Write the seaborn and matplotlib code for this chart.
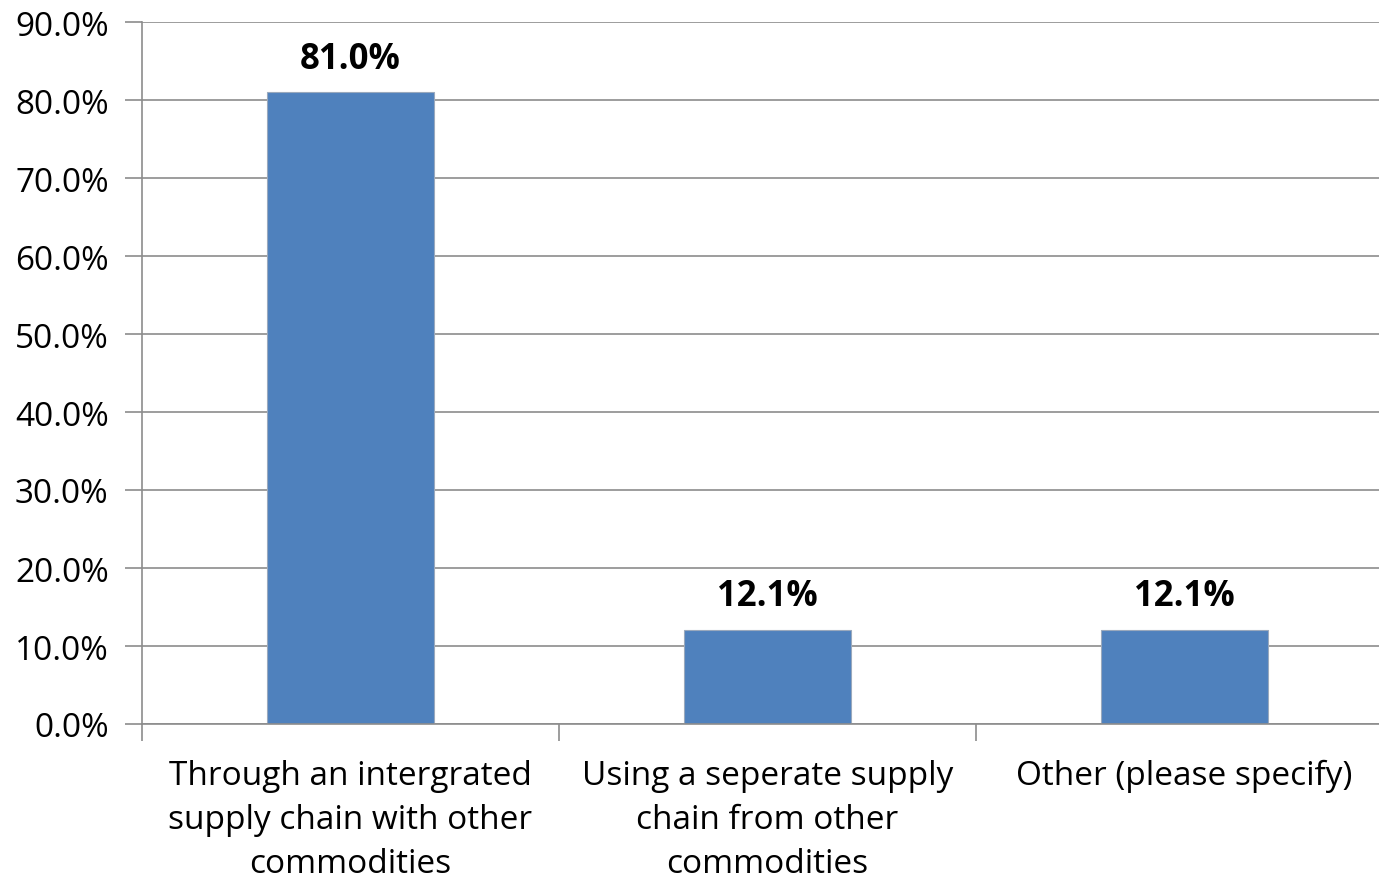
import pandas as pd
import seaborn as sns
import matplotlib.pyplot as plt
from matplotlib.ticker import FixedLocator, PercentFormatter

categories = ["Through an intergrated\nsupply chain with other\ncommodities",
              "Using a seperate supply\nchain from other\ncommodities",
              "Other (please specify)"]
values = [81.0, 12.1, 12.1]

data = pd.DataFrame({"category": categories, "value": values})

sns.set_style("white")
plt.rcParams['font.family'] = ['Open Sans', 'DejaVu Sans']
plt.rcParams['text.color'] = 'black'
plt.rcParams['xtick.color'] = 'black'
plt.rcParams['ytick.color'] = 'black'

fig = plt.figure(figsize=(13.79, 8.79), dpi=100)
# category band is ~417px wide, so the plot runs a little past the right edge
ax = fig.add_axes([142 / 1379, 1 - 725 / 879, 3 * 417 / 1379, (725 - 23) / 879])

sns.barplot(x="category", y="value", data=data, color="#4F81BD",
            width=0.4, edgecolor="#9aa9bd", linewidth=0.8, saturation=1, ax=ax)

ax.set_xlim(-0.5, 2.5)
ax.set_ylim(0, 90)
ax.set_yticks(range(0, 91, 10))
ax.yaxis.set_major_formatter(PercentFormatter(decimals=1))
ax.grid(axis="y", color="#8c8c8c", linewidth=1.2)
ax.set_axisbelow(True)
ax.set_xlabel("")
ax.set_ylabel("")

for side in ["top", "right"]:
    ax.spines[side].set_visible(False)
for side in ["left", "bottom"]:
    ax.spines[side].set_color("#8c8c8c")
    ax.spines[side].set_linewidth(1.2)

ax.tick_params(axis="y", length=12, width=1.2, color="#8c8c8c",
               labelsize=24, pad=12, left=True)
ax.tick_params(axis="x", which="major", length=0, labelsize=24, pad=25)
ax.xaxis.set_minor_locator(FixedLocator([-0.5, 0.5, 1.5, 2.5]))
ax.tick_params(axis="x", which="minor", length=12, width=1.2,
               color="#8c8c8c", bottom=True)
for lbl in ax.get_xticklabels():
    lbl.set_linespacing(1.45)

for i, v in enumerate(values):
    ax.text(i, v + 2.0, f"{v:.1f}%", ha="center", va="bottom",
            fontsize=25, fontweight="bold", color="black")

plt.savefig("out.png", dpi=100)
